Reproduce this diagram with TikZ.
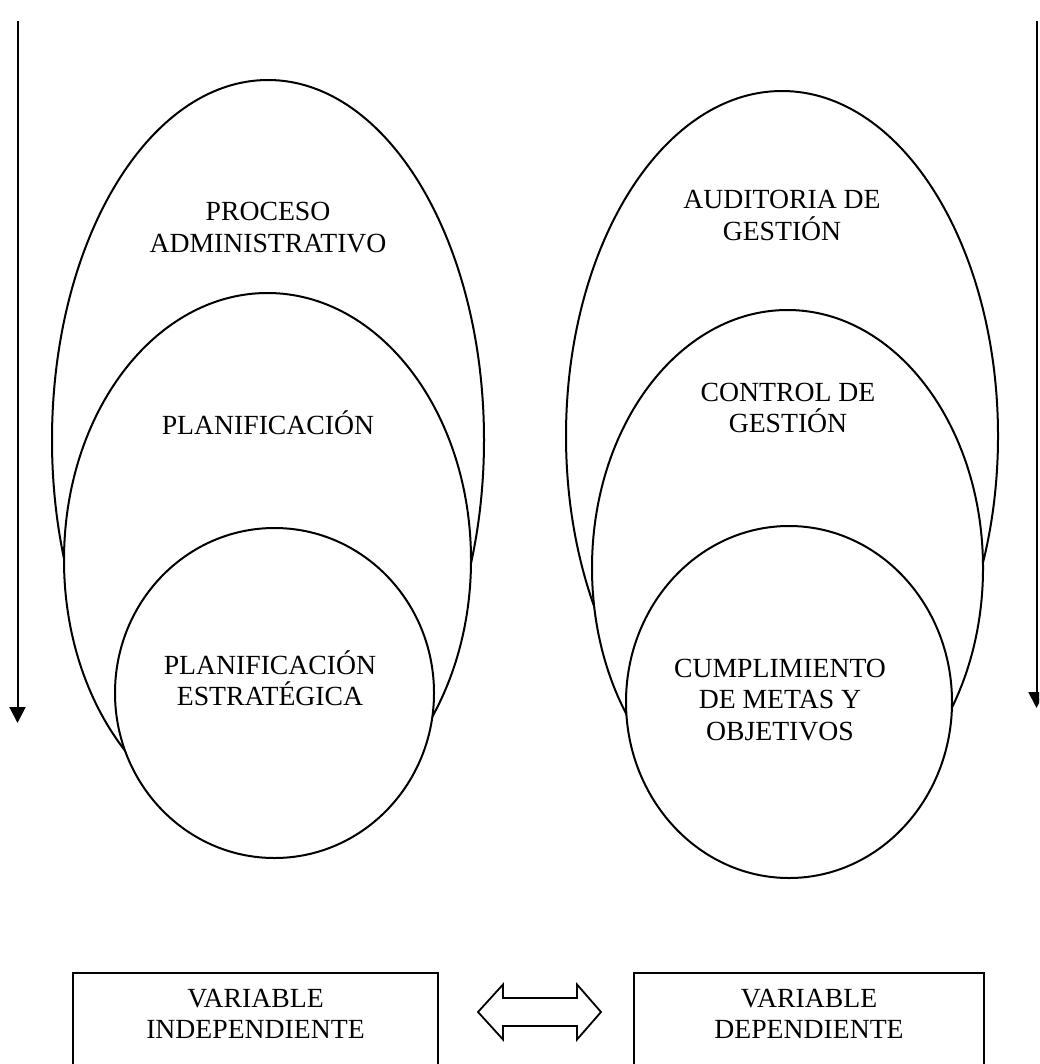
\documentclass[tikz,border=0pt]{standalone}
\usepackage{fontspec}
\setmainfont{Liberation Serif}
\usetikzlibrary{shapes.geometric,arrows.meta}
\begin{document}
\begin{tikzpicture}[x=1pt,y=-1pt,
  oval/.style={ellipse,draw=black,fill=white,line width=2pt,inner sep=0pt},
  lbl/.style={font=\fontsize{27.7}{31.5}\selectfont,align=center,anchor=base,inner sep=0pt},
  varbox/.style={draw=black,line width=2pt,minimum height=200pt,anchor=north,inner sep=0pt},
  flow/.style={line width=2pt,-{Triangle[width=16pt,length=16pt]}}]
\useasboundingbox (0,0) rectangle (1039,1064);
\clip (0,0) rectangle (1039,1064);

% left group: nested ovals, drawn from the outside in
\node[oval,minimum width=432pt,minimum height=720pt] (adm) at (268,440) {};
\node[oval,minimum width=407pt,minimum height=534pt] (plan) at (267.5,560) {};
\node[oval,minimum width=319pt,minimum height=330pt] (pest) at (274.5,693) {};

% right group
\node[oval,minimum width=432pt,minimum height=690pt] (aud) at (782,436) {};
\node[oval,minimum width=391pt,minimum height=516pt] (ctrl) at (787.5,568) {};
\node[oval,minimum width=326pt,minimum height=352pt] (cump) at (789,702) {};

% labels (anchored on the baseline of their last line)
\node[lbl] (admt)  at (268,252.5) {PROCESO\\ADMINISTRATIVO};
\node[lbl] (plant) at (268,434) {PLANIFICACIÓN};
\node[lbl] (pestt) at (270,705.5) {PLANIFICACIÓN\\ESTRATÉGICA};
\node[lbl] (audt)  at (782,240.5) {AUDITORIA DE\\GESTIÓN};
\node[lbl] (ctrlt) at (788,432.5) {CONTROL DE\\GESTIÓN};
\node[lbl] (cumpt) at (780,740) {CUMPLIMIENTO\\DE METAS Y\\OBJETIVOS};

% side arrows
\coordinate (la0) at (17.5,21);
\coordinate (la1) at (17.5,723);
\coordinate (ra0) at (1036.5,21);
\coordinate (ra1) at (1036.5,708);
\draw[flow] (la0) -- (la1);
\draw[flow] (ra0) -- (ra1);

% variable boxes
\node[varbox,minimum width=365pt] (indep) at (255.5,972) {};
\node[varbox,minimum width=350pt] (dep) at (809,972) {};
\node[lbl] (indept) at (255.5,1038.5) {VARIABLE\\INDEPENDIENTE};
\node[lbl] (dept) at (809,1038.5) {VARIABLE\\DEPENDIENTE};

% hollow double arrow between the boxes
\draw[line width=1.8pt,line join=miter]
  (478,1012) -- (503,984.5) -- (503,998) -- (577,998) -- (577,984.5)
  -- (601,1012) -- (577,1039.5) -- (577,1026) -- (503,1026) -- (503,1039.5) -- cycle;
\end{tikzpicture}
\end{document}
